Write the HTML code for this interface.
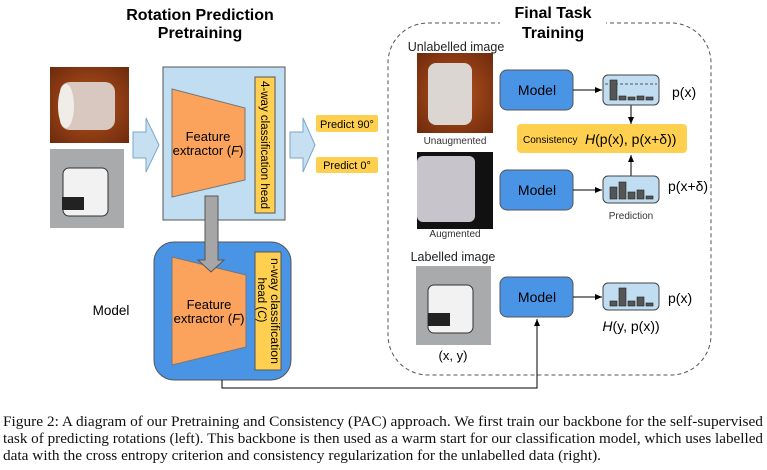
<!DOCTYPE html>
<html><head><meta charset="utf-8"><style>
body{margin:0;background:#fff;width:767px;height:470px;overflow:hidden}
</style></head><body>
<svg width="767" height="470" style="position:absolute;left:0;top:0" font-family="Liberation Sans, sans-serif">
<defs>
<radialGradient id="wood" cx="0.5" cy="0.5" r="0.7"><stop offset="0" stop-color="#b8541e"/><stop offset="1" stop-color="#6e2a0c"/></radialGradient>
<marker id="ah" markerWidth="8" markerHeight="8" refX="7" refY="4" orient="auto" markerUnits="userSpaceOnUse"><path d="M0,1 L7,4 L0,7 z" fill="#000"/></marker>
</defs>
<g font-weight="bold" font-size="16" text-anchor="middle" fill="#000">
<text x="200" y="20">Rotation Prediction</text><text x="200" y="38">Pretraining</text>
</g>
<rect x="50" y="67" width="79" height="76" fill="url(#wood)"/>
<rect x="60" y="82" width="55" height="48" rx="10" fill="#d8c8c0"/>
<ellipse cx="66" cy="106" rx="8" ry="22" fill="#f0ece8"/>
<rect x="50" y="149" width="74" height="79" fill="#a9aaac"/>
<rect x="63" y="168" width="45" height="48" rx="6" fill="#f2f2f2" stroke="#333"/>
<rect x="62" y="197" width="22" height="13" fill="#222"/>
<path d="M133,132 L146,132 L146,118 L159,145 L146,172 L146,158 L133,158 z" fill="#c6e0f2" stroke="#7aa7c8"/>
<rect x="163" y="67" width="122" height="153" fill="#c1ddf1" stroke="#555"/>
<path d="M172,89 L245,108 L245,180 L172,197 z" fill="#fba35c" stroke="#777"/>
<text x="208" y="141" font-size="13" text-anchor="middle">Feature</text>
<text x="208" y="155" font-size="13" text-anchor="middle">extractor (<tspan font-style="italic">F</tspan>)</text>
<rect x="255" y="77" width="20" height="136" fill="#ffd04f" stroke="#555"/>
<text transform="translate(261,145) rotate(90)" font-size="11.5" text-anchor="middle" textLength="128" lengthAdjust="spacingAndGlyphs">4-way classification head</text>
<path d="M290,132 L303,132 L303,118 L315,145 L303,172 L303,158 L290,158 z" fill="#c6e0f2" stroke="#7aa7c8"/>
<rect x="316" y="115" width="62" height="17" rx="2" fill="#ffd04f"/>
<text x="347" y="128" font-size="11" text-anchor="middle">Predict 90°</text>
<rect x="316" y="157" width="62" height="16" rx="2" fill="#ffd04f"/>
<text x="347" y="169" font-size="11" text-anchor="middle">Predict 0°</text>
<rect x="154" y="242" width="137" height="138" rx="20" fill="#4a94e6" stroke="#555"/>
<path d="M172,257 L246,275 L246,347 L172,365 z" fill="#fba35c" stroke="#777"/>
<text x="209" y="309" font-size="13" text-anchor="middle">Feature</text>
<text x="209" y="323" font-size="13" text-anchor="middle">extractor (<tspan font-style="italic">F</tspan>)</text>
<rect x="255" y="252" width="26" height="118" fill="#ffd04f" stroke="#555"/>
<text transform="translate(271,311) rotate(90)" font-size="11.5" text-anchor="middle" textLength="106" lengthAdjust="spacingAndGlyphs">n-way classification</text>
<text transform="translate(258,300) rotate(90)" font-size="11.5" text-anchor="middle">head (<tspan font-style="italic">C</tspan>)</text>
<path d="M205,196 L218,196 L218,260 L224,260 L211,272 L198,260 L205,260 z" fill="#a6a6a6" stroke="#555"/>
<text x="111" y="315" font-size="13.5" text-anchor="middle">Model</text>
<path d="M222,380 L222,388 L537,388 L537,319" fill="none" stroke="#000" marker-end="url(#ah)"/>
<rect x="388" y="23" width="323" height="352" rx="40" fill="none" stroke="#555" stroke-dasharray="4,3"/>
<rect x="500" y="20" width="106" height="20" fill="#fff"/>
<text x="553" y="18" font-size="16" font-weight="bold" text-anchor="middle">Final Task</text>
<text x="553" y="38" font-size="16" font-weight="bold" text-anchor="middle">Training</text>
<text x="456" y="51" font-size="12.5" text-anchor="middle" fill="#222">Unlabelled image</text>
<rect x="417" y="53" width="76" height="80" fill="url(#wood)"/>
<rect x="428" y="63" width="44" height="62" rx="8" fill="#dcd6d2"/>
<text x="455" y="144" font-size="10" text-anchor="middle" fill="#333">Unaugmented</text>
<rect x="417" y="152" width="76" height="77" fill="#111"/>
<rect x="417" y="156" width="58" height="66" rx="6" fill="#c8c4cc"/>
<text x="455" y="237" font-size="10" text-anchor="middle" fill="#333">Augmented</text>
<text x="453" y="261" font-size="12.5" text-anchor="middle" fill="#222">Labelled image</text>
<rect x="416" y="266" width="75" height="79" fill="#a9aaac"/>
<rect x="428" y="285" width="45" height="48" rx="6" fill="#f2f2f2" stroke="#333"/>
<rect x="428" y="313" width="22" height="13" fill="#222"/>
<text x="453" y="360" font-size="13" text-anchor="middle">(x, y)</text>
<g fill="#4a94e6" stroke="#555">
<rect x="500" y="70" width="73" height="40" rx="7"/><rect x="500" y="170" width="73" height="40" rx="7"/><rect x="500" y="277" width="73" height="40" rx="7"/>
</g>
<g font-size="14" text-anchor="middle"><text x="537" y="95">Model</text><text x="537" y="195">Model</text><text x="537" y="302">Model</text></g>
<g stroke="#000" marker-end="url(#ah)"><line x1="573" y1="90" x2="602" y2="90"/><line x1="573" y1="190" x2="602" y2="190"/><line x1="573" y1="297" x2="602" y2="297"/>
<line x1="631" y1="105" x2="631" y2="124"/><line x1="631" y1="176" x2="631" y2="155"/></g>
<g fill="#c1ddf1" stroke="#444"><rect x="603" y="75" width="56" height="30" rx="5"/><rect x="603" y="176" width="56" height="27" rx="5"/><rect x="603" y="283" width="56" height="27" rx="5"/></g>
<line x1="605" y1="84" x2="657" y2="84" stroke="#555" stroke-dasharray="3,2"/>
<g fill="#555" stroke="#222" stroke-width="0.6">
<rect x="610" y="80" width="7" height="20"/><rect x="619" y="96" width="7" height="4"/><rect x="628" y="97" width="7" height="3"/><rect x="637" y="96" width="7" height="4"/><rect x="646" y="97" width="7" height="3"/>
<rect x="610" y="187" width="7" height="12"/><rect x="619" y="182" width="7" height="17"/><rect x="628" y="192" width="7" height="7"/><rect x="637" y="190" width="7" height="9"/><rect x="646" y="196" width="7" height="3"/>
<rect x="610" y="301" width="7" height="5"/><rect x="619" y="288" width="7" height="18"/><rect x="628" y="301" width="7" height="5"/><rect x="637" y="297" width="7" height="9"/><rect x="646" y="303" width="7" height="3"/>
</g>
<rect x="517" y="124" width="170" height="29" rx="4" fill="#ffd04f"/>
<text x="523" y="143" font-size="10">Consistency</text>
<text x="585" y="144" font-size="14"><tspan font-style="italic">H</tspan>(p(x), p(x+δ))</text>
<g font-size="14"><text x="672" y="97">p(x)</text><text x="668" y="191">p(x+δ)</text><text x="668" y="303">p(x)</text>
<text x="631" y="331" text-anchor="middle"><tspan font-style="italic">H</tspan>(y, p(x))</text></g>
<text x="631" y="219" font-size="10" text-anchor="middle" fill="#333">Prediction</text>
<g font-family="Liberation Serif, serif" font-size="14.5" fill="#111">
<text x="3" y="426" textLength="760" lengthAdjust="spacingAndGlyphs">Figure 2: A diagram of our Pretraining and Consistency (PAC) approach. We first train our backbone for the self-supervised</text>
<text x="3" y="443" textLength="760" lengthAdjust="spacingAndGlyphs">task of predicting rotations (left). This backbone is then used as a warm start for our classification model, which uses labelled</text>
<text x="3" y="460" textLength="598" lengthAdjust="spacingAndGlyphs">data with the cross entropy criterion and consistency regularization for the unlabelled data (right).</text>
</g>
</svg>
</body></html>
